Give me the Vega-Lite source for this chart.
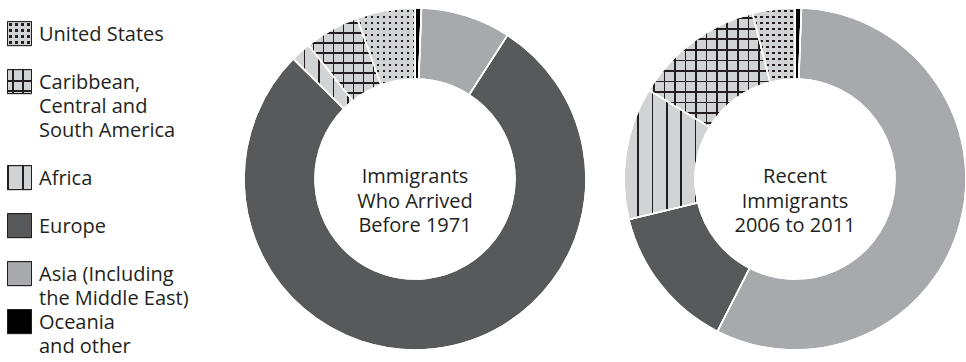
{
  "$schema": "https://vega.github.io/schema/vega-lite/v6.json",
  "padding": 0,
  "background": "white",
  "config": {"view": {"stroke": null}},
  "bounds": "flush",
  "spacing": 205,
  "datasets": {
    "shares": [
      {"period": "before", "region": "Oceania and other", "pct": 0.6, "ord": 1},
      {"period": "before", "region": "Asia (Including the Middle East)", "pct": 8.5, "ord": 2},
      {"period": "before", "region": "Europe", "pct": 78.3, "ord": 3},
      {"period": "before", "region": "Africa", "pct": 1.9, "ord": 4},
      {"period": "before", "region": "Caribbean, Central and South America", "pct": 5.2, "ord": 5},
      {"period": "before", "region": "United States", "pct": 5.5, "ord": 6},
      {"period": "recent", "region": "Oceania and other", "pct": 0.6, "ord": 1},
      {"period": "recent", "region": "Asia (Including the Middle East)", "pct": 56.9, "ord": 2},
      {"period": "recent", "region": "Europe", "pct": 13.7, "ord": 3},
      {"period": "recent", "region": "Africa", "pct": 12.5, "ord": 4},
      {"period": "recent", "region": "Caribbean, Central and South America", "pct": 12.3, "ord": 5},
      {"period": "recent", "region": "United States", "pct": 4.0, "ord": 6}
    ],
    "legend": [
      {"region": "United States", "label": "United States", "row": 0},
      {"region": "Caribbean, Central and South America", "label": "Caribbean,\nCentral and\nSouth America", "row": 2},
      {"region": "Africa", "label": "Africa", "row": 6},
      {"region": "Europe", "label": "Europe", "row": 8},
      {"region": "Asia (Including the Middle East)", "label": "Asia (Including\nthe Middle East)", "row": 10},
      {"region": "Oceania and other", "label": "Oceania\nand other", "row": 12}
    ]
  },
  "hconcat": [
    {
      "width": 39,
      "height": 358,
      "data": {"name": "legend"},
      "encoding": {
        "y": {"field": "row", "type": "quantitative", "axis": null,
              "scale": {"domain": [-1.4, 13.517], "reverse": true, "nice": false, "zero": false}}
      },
      "layer": [
        {
          "mark": {"type": "square", "size": 576, "opacity": 1, "stroke": "#231f20", "strokeWidth": 1},
          "encoding": {
            "fill": {
              "condition": [
                {"test": "datum.region === 'Europe'", "value": "#58595b"},
                {"test": "datum.region === 'Asia (Including the Middle East)'", "value": "#a7a9ac"},
                {"test": "datum.region === 'Africa'", "value": {"gradient": "linear", "x1": 0, "y1": 0, "x2": 1, "y2": 0, "stops": [
                  {"offset": 0, "color": "#231f20"}, {"offset": 0.055, "color": "#231f20"}, {"offset": 0.055, "color": "#d1d3d4"},
                  {"offset": 0.605, "color": "#d1d3d4"}, {"offset": 0.605, "color": "#231f20"}, {"offset": 0.672, "color": "#231f20"}, {"offset": 0.672, "color": "#d1d3d4"}]}},
                {"test": "datum.region === 'Caribbean, Central and South America'", "value": {"gradient": "linear", "x1": 0, "y1": 0, "x2": 0, "y2": 1, "stops": [
                  {"offset": 0.4225, "color": "#d1d3d4"}, {"offset": 0.4225, "color": "#231f20"}, {"offset": 0.4975, "color": "#231f20"}, {"offset": 0.4975, "color": "#d1d3d4"},
                  {"offset": 0.8525, "color": "#d1d3d4"}, {"offset": 0.8525, "color": "#231f20"}, {"offset": 0.9275, "color": "#231f20"}, {"offset": 0.9275, "color": "#d1d3d4"}]}},
                {"test": "datum.region === 'United States'", "value": {"gradient": "linear", "x1": 0, "y1": 0, "x2": 1, "y2": 0, "stops": [
                  {"offset": 0.079, "color": "#d1d3d4"}, {"offset": 0.079, "color": "#231f20"}, {"offset": 0.171, "color": "#231f20"}, {"offset": 0.171, "color": "#d1d3d4"},
                  {"offset": 0.329, "color": "#d1d3d4"}, {"offset": 0.329, "color": "#231f20"}, {"offset": 0.421, "color": "#231f20"}, {"offset": 0.421, "color": "#d1d3d4"},
                  {"offset": 0.579, "color": "#d1d3d4"}, {"offset": 0.579, "color": "#231f20"}, {"offset": 0.671, "color": "#231f20"}, {"offset": 0.671, "color": "#d1d3d4"},
                  {"offset": 0.829, "color": "#d1d3d4"}, {"offset": 0.829, "color": "#231f20"}, {"offset": 0.921, "color": "#231f20"}, {"offset": 0.921, "color": "#d1d3d4"}]}}
              ],
              "value": "#000000"
            }
          }
        },
        {
          "mark": {"type": "square", "size": 576, "opacity": 1, "stroke": "#231f20", "strokeWidth": 1},
          "encoding": {
            "fill": {
              "condition": [
                {"test": "datum.region === 'Caribbean, Central and South America'", "value": {"gradient": "linear", "x1": 0, "y1": 0, "x2": 1, "y2": 0, "stops": [
                  {"offset": 0.1825, "color": "transparent"}, {"offset": 0.1825, "color": "#231f20"}, {"offset": 0.2575, "color": "#231f20"}, {"offset": 0.2575, "color": "transparent"},
                  {"offset": 0.5925, "color": "transparent"}, {"offset": 0.5925, "color": "#231f20"}, {"offset": 0.6675, "color": "#231f20"}, {"offset": 0.6675, "color": "transparent"}]}},
                {"test": "datum.region === 'United States'", "value": {"gradient": "linear", "x1": 0, "y1": 0, "x2": 0, "y2": 1, "stops": [
                  {"offset": 0.079, "color": "#d1d3d4"}, {"offset": 0.079, "color": "transparent"}, {"offset": 0.171, "color": "transparent"}, {"offset": 0.171, "color": "#d1d3d4"},
                  {"offset": 0.329, "color": "#d1d3d4"}, {"offset": 0.329, "color": "transparent"}, {"offset": 0.421, "color": "transparent"}, {"offset": 0.421, "color": "#d1d3d4"},
                  {"offset": 0.579, "color": "#d1d3d4"}, {"offset": 0.579, "color": "transparent"}, {"offset": 0.671, "color": "transparent"}, {"offset": 0.671, "color": "#d1d3d4"},
                  {"offset": 0.829, "color": "#d1d3d4"}, {"offset": 0.829, "color": "transparent"}, {"offset": 0.921, "color": "transparent"}, {"offset": 0.921, "color": "#d1d3d4"}]}}
              ],
              "value": "transparent"
            }
          }
        },
        {
          "mark": {"type": "text", "align": "left", "baseline": "alphabetic", "dx": 19.5, "dy": 7.5, "font": "Open Sans", "fontSize": 20, "lineHeight": 24, "lineBreak": "\n", "color": "#231f20"},
          "encoding": {"text": {"field": "label", "type": "nominal"}}
        }
      ]
    },
    {
      "bounds": "flush",
      "spacing": 38,
      "hconcat": [
        {
          "width": 342,
          "height": 358,
          "layer": [
            {
              "data": {"name": "shares"},
              "transform": [{"filter": "datum.period === 'before'"}],
              "mark": {"type": "arc", "outerRadius": 171, "innerRadius": 100, "stroke": "white", "strokeWidth": 1.5},
              "encoding": {
                "theta": {"field": "pct", "type": "quantitative", "stack": true},
                "order": {"field": "ord", "type": "quantitative"},
                "fill": {
                  "condition": [
                    {"test": "datum.region === 'Europe'", "value": "#58595b"},
                    {"test": "datum.region === 'Asia (Including the Middle East)'", "value": "#a7a9ac"},
                    {"test": "datum.region === 'Africa'", "value": {"gradient": "linear", "x1": 0, "y1": 0, "x2": 1, "y2": 0, "stops": [
                      {"offset": 0.175, "color": "#d1d3d4"}, {"offset": 0.175, "color": "#231f20"}, {"offset": 0.202, "color": "#231f20"}, {"offset": 0.202, "color": "#d1d3d4"},
                      {"offset": 0.416, "color": "#d1d3d4"}, {"offset": 0.416, "color": "#231f20"}, {"offset": 0.443, "color": "#231f20"}, {"offset": 0.443, "color": "#d1d3d4"},
                      {"offset": 0.663, "color": "#d1d3d4"}, {"offset": 0.663, "color": "#231f20"}, {"offset": 0.690, "color": "#231f20"}, {"offset": 0.690, "color": "#d1d3d4"},
                      {"offset": 0.904, "color": "#d1d3d4"}, {"offset": 0.904, "color": "#231f20"}, {"offset": 0.931, "color": "#231f20"}, {"offset": 0.931, "color": "#d1d3d4"}]}},
                    {"test": "datum.region === 'Caribbean, Central and South America'", "value": {"gradient": "linear", "x1": 0, "y1": 0, "x2": 0, "y2": 1, "stops": [
                      {"offset": 0.050, "color": "#d1d3d4"}, {"offset": 0.050, "color": "#231f20"}, {"offset": 0.071, "color": "#231f20"}, {"offset": 0.071, "color": "#d1d3d4"},
                      {"offset": 0.171, "color": "#d1d3d4"}, {"offset": 0.171, "color": "#231f20"}, {"offset": 0.192, "color": "#231f20"}, {"offset": 0.192, "color": "#d1d3d4"},
                      {"offset": 0.291, "color": "#d1d3d4"}, {"offset": 0.291, "color": "#231f20"}, {"offset": 0.313, "color": "#231f20"}, {"offset": 0.313, "color": "#d1d3d4"},
                      {"offset": 0.412, "color": "#d1d3d4"}, {"offset": 0.412, "color": "#231f20"}, {"offset": 0.434, "color": "#231f20"}, {"offset": 0.434, "color": "#d1d3d4"},
                      {"offset": 0.533, "color": "#d1d3d4"}, {"offset": 0.533, "color": "#231f20"}, {"offset": 0.555, "color": "#231f20"}, {"offset": 0.555, "color": "#d1d3d4"},
                      {"offset": 0.654, "color": "#d1d3d4"}, {"offset": 0.654, "color": "#231f20"}, {"offset": 0.676, "color": "#231f20"}, {"offset": 0.676, "color": "#d1d3d4"},
                      {"offset": 0.775, "color": "#d1d3d4"}, {"offset": 0.775, "color": "#231f20"}, {"offset": 0.797, "color": "#231f20"}, {"offset": 0.797, "color": "#d1d3d4"},
                      {"offset": 0.896, "color": "#d1d3d4"}, {"offset": 0.896, "color": "#231f20"}, {"offset": 0.918, "color": "#231f20"}, {"offset": 0.918, "color": "#d1d3d4"}]}},
                    {"test": "datum.region === 'United States'", "value": {"gradient": "linear", "x1": 0, "y1": 0, "x2": 1, "y2": 0, "stops": [
                      {"offset": 0.033, "color": "#d1d3d4"}, {"offset": 0.033, "color": "#231f20"}, {"offset": 0.071, "color": "#231f20"}, {"offset": 0.071, "color": "#d1d3d4"},
                      {"offset": 0.136, "color": "#d1d3d4"}, {"offset": 0.136, "color": "#231f20"}, {"offset": 0.174, "color": "#231f20"}, {"offset": 0.174, "color": "#d1d3d4"},
                      {"offset": 0.240, "color": "#d1d3d4"}, {"offset": 0.240, "color": "#231f20"}, {"offset": 0.278, "color": "#231f20"}, {"offset": 0.278, "color": "#d1d3d4"},
                      {"offset": 0.344, "color": "#d1d3d4"}, {"offset": 0.344, "color": "#231f20"}, {"offset": 0.382, "color": "#231f20"}, {"offset": 0.382, "color": "#d1d3d4"},
                      {"offset": 0.447, "color": "#d1d3d4"}, {"offset": 0.447, "color": "#231f20"}, {"offset": 0.485, "color": "#231f20"}, {"offset": 0.485, "color": "#d1d3d4"},
                      {"offset": 0.551, "color": "#d1d3d4"}, {"offset": 0.551, "color": "#231f20"}, {"offset": 0.589, "color": "#231f20"}, {"offset": 0.589, "color": "#d1d3d4"},
                      {"offset": 0.655, "color": "#d1d3d4"}, {"offset": 0.655, "color": "#231f20"}, {"offset": 0.693, "color": "#231f20"}, {"offset": 0.693, "color": "#d1d3d4"},
                      {"offset": 0.758, "color": "#d1d3d4"}, {"offset": 0.758, "color": "#231f20"}, {"offset": 0.796, "color": "#231f20"}, {"offset": 0.796, "color": "#d1d3d4"},
                      {"offset": 0.862, "color": "#d1d3d4"}, {"offset": 0.862, "color": "#231f20"}, {"offset": 0.900, "color": "#231f20"}, {"offset": 0.900, "color": "#d1d3d4"},
                      {"offset": 0.966, "color": "#d1d3d4"}, {"offset": 0.966, "color": "#231f20"}, {"offset": 1, "color": "#231f20"}]}}
                  ],
                  "value": "#000000"
                }
              }
            },
            {
              "data": {"name": "shares"},
              "transform": [{"filter": "datum.period === 'before'"}],
              "mark": {"type": "arc", "outerRadius": 171, "innerRadius": 100, "stroke": "white", "strokeWidth": 1.5},
              "encoding": {
                "theta": {"field": "pct", "type": "quantitative", "stack": true},
                "order": {"field": "ord", "type": "quantitative"},
                "fill": {
                  "condition": [
                    {"test": "datum.region === 'Caribbean, Central and South America'", "value": {"gradient": "linear", "x1": 0, "y1": 0, "x2": 1, "y2": 0, "stops": [
                      {"offset": 0.057, "color": "transparent"}, {"offset": 0.057, "color": "#231f20"}, {"offset": 0.081, "color": "#231f20"}, {"offset": 0.081, "color": "transparent"},
                      {"offset": 0.194, "color": "transparent"}, {"offset": 0.194, "color": "#231f20"}, {"offset": 0.219, "color": "#231f20"}, {"offset": 0.219, "color": "transparent"},
                      {"offset": 0.332, "color": "transparent"}, {"offset": 0.332, "color": "#231f20"}, {"offset": 0.357, "color": "#231f20"}, {"offset": 0.357, "color": "transparent"},
                      {"offset": 0.470, "color": "transparent"}, {"offset": 0.470, "color": "#231f20"}, {"offset": 0.494, "color": "#231f20"}, {"offset": 0.494, "color": "transparent"},
                      {"offset": 0.607, "color": "transparent"}, {"offset": 0.607, "color": "#231f20"}, {"offset": 0.632, "color": "#231f20"}, {"offset": 0.632, "color": "transparent"},
                      {"offset": 0.745, "color": "transparent"}, {"offset": 0.745, "color": "#231f20"}, {"offset": 0.770, "color": "#231f20"}, {"offset": 0.770, "color": "transparent"},
                      {"offset": 0.883, "color": "transparent"}, {"offset": 0.883, "color": "#231f20"}, {"offset": 0.908, "color": "#231f20"}, {"offset": 0.908, "color": "transparent"}]}},
                    {"test": "datum.region === 'United States'", "value": {"gradient": "linear", "x1": 0, "y1": 0, "x2": 0, "y2": 1, "stops": [
                      {"offset": 0.025, "color": "#d1d3d4"}, {"offset": 0.025, "color": "transparent"}, {"offset": 0.053, "color": "transparent"}, {"offset": 0.053, "color": "#d1d3d4"},
                      {"offset": 0.103, "color": "#d1d3d4"}, {"offset": 0.103, "color": "transparent"}, {"offset": 0.131, "color": "transparent"}, {"offset": 0.131, "color": "#d1d3d4"},
                      {"offset": 0.181, "color": "#d1d3d4"}, {"offset": 0.181, "color": "transparent"}, {"offset": 0.209, "color": "transparent"}, {"offset": 0.209, "color": "#d1d3d4"},
                      {"offset": 0.259, "color": "#d1d3d4"}, {"offset": 0.259, "color": "transparent"}, {"offset": 0.287, "color": "transparent"}, {"offset": 0.287, "color": "#d1d3d4"},
                      {"offset": 0.337, "color": "#d1d3d4"}, {"offset": 0.337, "color": "transparent"}, {"offset": 0.365, "color": "transparent"}, {"offset": 0.365, "color": "#d1d3d4"},
                      {"offset": 0.415, "color": "#d1d3d4"}, {"offset": 0.415, "color": "transparent"}, {"offset": 0.443, "color": "transparent"}, {"offset": 0.443, "color": "#d1d3d4"},
                      {"offset": 0.493, "color": "#d1d3d4"}, {"offset": 0.493, "color": "transparent"}, {"offset": 0.521, "color": "transparent"}, {"offset": 0.521, "color": "#d1d3d4"},
                      {"offset": 0.571, "color": "#d1d3d4"}, {"offset": 0.571, "color": "transparent"}, {"offset": 0.600, "color": "transparent"}, {"offset": 0.600, "color": "#d1d3d4"},
                      {"offset": 0.649, "color": "#d1d3d4"}, {"offset": 0.649, "color": "transparent"}, {"offset": 0.678, "color": "transparent"}, {"offset": 0.678, "color": "#d1d3d4"},
                      {"offset": 0.727, "color": "#d1d3d4"}, {"offset": 0.727, "color": "transparent"}, {"offset": 0.756, "color": "transparent"}, {"offset": 0.756, "color": "#d1d3d4"},
                      {"offset": 0.805, "color": "#d1d3d4"}, {"offset": 0.805, "color": "transparent"}, {"offset": 0.834, "color": "transparent"}, {"offset": 0.834, "color": "#d1d3d4"},
                      {"offset": 0.883, "color": "#d1d3d4"}, {"offset": 0.883, "color": "transparent"}, {"offset": 0.912, "color": "transparent"}, {"offset": 0.912, "color": "#d1d3d4"},
                      {"offset": 0.961, "color": "#d1d3d4"}, {"offset": 0.961, "color": "transparent"}, {"offset": 0.990, "color": "transparent"}, {"offset": 0.990, "color": "#d1d3d4"}]}}
                  ],
                  "value": "transparent"
                }
              }
            },
            {
              "data": {"values": [{"t": "Immigrants\nWho Arrived\nBefore 1971"}]},
              "mark": {"type": "text", "align": "center", "baseline": "middle", "dy": -2, "font": "Open Sans", "fontSize": 20, "lineHeight": 24.5, "lineBreak": "\n", "color": "#231f20"},
              "encoding": {"text": {"field": "t", "type": "nominal"}}
            }
          ]
        },
        {
          "width": 342,
          "height": 358,
          "layer": [
            {
              "data": {"name": "shares"},
              "transform": [{"filter": "datum.period === 'recent'"}],
              "mark": {"type": "arc", "outerRadius": 171, "innerRadius": 100, "stroke": "white", "strokeWidth": 1.5},
              "encoding": {
                "theta": {"field": "pct", "type": "quantitative", "stack": true},
                "order": {"field": "ord", "type": "quantitative"},
                "fill": {
                  "condition": [
                    {"test": "datum.region === 'Europe'", "value": "#58595b"},
                    {"test": "datum.region === 'Asia (Including the Middle East)'", "value": "#a7a9ac"},
                    {"test": "datum.region === 'Africa'", "value": {"gradient": "linear", "x1": 0, "y1": 0, "x2": 1, "y2": 0, "stops": [
                      {"offset": 0.157, "color": "#d1d3d4"}, {"offset": 0.157, "color": "#231f20"}, {"offset": 0.176, "color": "#231f20"}, {"offset": 0.176, "color": "#d1d3d4"},
                      {"offset": 0.324, "color": "#d1d3d4"}, {"offset": 0.324, "color": "#231f20"}, {"offset": 0.343, "color": "#231f20"}, {"offset": 0.343, "color": "#d1d3d4"},
                      {"offset": 0.491, "color": "#d1d3d4"}, {"offset": 0.491, "color": "#231f20"}, {"offset": 0.509, "color": "#231f20"}, {"offset": 0.509, "color": "#d1d3d4"},
                      {"offset": 0.657, "color": "#d1d3d4"}, {"offset": 0.657, "color": "#231f20"}, {"offset": 0.676, "color": "#231f20"}, {"offset": 0.676, "color": "#d1d3d4"},
                      {"offset": 0.824, "color": "#d1d3d4"}, {"offset": 0.824, "color": "#231f20"}, {"offset": 0.843, "color": "#231f20"}, {"offset": 0.843, "color": "#d1d3d4"}]}},
                    {"test": "datum.region === 'Caribbean, Central and South America'", "value": {"gradient": "linear", "x1": 0, "y1": 0, "x2": 0, "y2": 1, "stops": [
                      {"offset": 0.036, "color": "#d1d3d4"}, {"offset": 0.036, "color": "#231f20"}, {"offset": 0.052, "color": "#231f20"}, {"offset": 0.052, "color": "#d1d3d4"},
                      {"offset": 0.129, "color": "#d1d3d4"}, {"offset": 0.129, "color": "#231f20"}, {"offset": 0.144, "color": "#231f20"}, {"offset": 0.144, "color": "#d1d3d4"},
                      {"offset": 0.221, "color": "#d1d3d4"}, {"offset": 0.221, "color": "#231f20"}, {"offset": 0.237, "color": "#231f20"}, {"offset": 0.237, "color": "#d1d3d4"},
                      {"offset": 0.313, "color": "#d1d3d4"}, {"offset": 0.313, "color": "#231f20"}, {"offset": 0.329, "color": "#231f20"}, {"offset": 0.329, "color": "#d1d3d4"},
                      {"offset": 0.406, "color": "#d1d3d4"}, {"offset": 0.406, "color": "#231f20"}, {"offset": 0.422, "color": "#231f20"}, {"offset": 0.422, "color": "#d1d3d4"},
                      {"offset": 0.498, "color": "#d1d3d4"}, {"offset": 0.498, "color": "#231f20"}, {"offset": 0.514, "color": "#231f20"}, {"offset": 0.514, "color": "#d1d3d4"},
                      {"offset": 0.591, "color": "#d1d3d4"}, {"offset": 0.591, "color": "#231f20"}, {"offset": 0.607, "color": "#231f20"}, {"offset": 0.607, "color": "#d1d3d4"},
                      {"offset": 0.683, "color": "#d1d3d4"}, {"offset": 0.683, "color": "#231f20"}, {"offset": 0.699, "color": "#231f20"}, {"offset": 0.699, "color": "#d1d3d4"},
                      {"offset": 0.776, "color": "#d1d3d4"}, {"offset": 0.776, "color": "#231f20"}, {"offset": 0.791, "color": "#231f20"}, {"offset": 0.791, "color": "#d1d3d4"},
                      {"offset": 0.868, "color": "#d1d3d4"}, {"offset": 0.868, "color": "#231f20"}, {"offset": 0.884, "color": "#231f20"}, {"offset": 0.884, "color": "#d1d3d4"},
                      {"offset": 0.960, "color": "#d1d3d4"}, {"offset": 0.960, "color": "#231f20"}, {"offset": 0.976, "color": "#231f20"}, {"offset": 0.976, "color": "#d1d3d4"}]}},
                    {"test": "datum.region === 'United States'", "value": {"gradient": "linear", "x1": 0, "y1": 0, "x2": 1, "y2": 0, "stops": [
                      {"offset": 0.045, "color": "#d1d3d4"}, {"offset": 0.045, "color": "#231f20"}, {"offset": 0.096, "color": "#231f20"}, {"offset": 0.096, "color": "#d1d3d4"},
                      {"offset": 0.186, "color": "#d1d3d4"}, {"offset": 0.186, "color": "#231f20"}, {"offset": 0.238, "color": "#231f20"}, {"offset": 0.238, "color": "#d1d3d4"},
                      {"offset": 0.327, "color": "#d1d3d4"}, {"offset": 0.327, "color": "#231f20"}, {"offset": 0.379, "color": "#231f20"}, {"offset": 0.379, "color": "#d1d3d4"},
                      {"offset": 0.468, "color": "#d1d3d4"}, {"offset": 0.468, "color": "#231f20"}, {"offset": 0.520, "color": "#231f20"}, {"offset": 0.520, "color": "#d1d3d4"},
                      {"offset": 0.609, "color": "#d1d3d4"}, {"offset": 0.609, "color": "#231f20"}, {"offset": 0.661, "color": "#231f20"}, {"offset": 0.661, "color": "#d1d3d4"},
                      {"offset": 0.751, "color": "#d1d3d4"}, {"offset": 0.751, "color": "#231f20"}, {"offset": 0.802, "color": "#231f20"}, {"offset": 0.802, "color": "#d1d3d4"},
                      {"offset": 0.892, "color": "#d1d3d4"}, {"offset": 0.892, "color": "#231f20"}, {"offset": 0.944, "color": "#231f20"}, {"offset": 0.944, "color": "#d1d3d4"}]}}
                  ],
                  "value": "#000000"
                }
              }
            },
            {
              "data": {"name": "shares"},
              "transform": [{"filter": "datum.period === 'recent'"}],
              "mark": {"type": "arc", "outerRadius": 171, "innerRadius": 100, "stroke": "white", "strokeWidth": 1.5},
              "encoding": {
                "theta": {"field": "pct", "type": "quantitative", "stack": true},
                "order": {"field": "ord", "type": "quantitative"},
                "fill": {
                  "condition": [
                    {"test": "datum.region === 'Caribbean, Central and South America'", "value": {"gradient": "linear", "x1": 0, "y1": 0, "x2": 1, "y2": 0, "stops": [
                      {"offset": 0.034, "color": "transparent"}, {"offset": 0.034, "color": "#231f20"}, {"offset": 0.049, "color": "#231f20"}, {"offset": 0.049, "color": "transparent"},
                      {"offset": 0.121, "color": "transparent"}, {"offset": 0.121, "color": "#231f20"}, {"offset": 0.135, "color": "#231f20"}, {"offset": 0.135, "color": "transparent"},
                      {"offset": 0.207, "color": "transparent"}, {"offset": 0.207, "color": "#231f20"}, {"offset": 0.222, "color": "#231f20"}, {"offset": 0.222, "color": "transparent"},
                      {"offset": 0.294, "color": "transparent"}, {"offset": 0.294, "color": "#231f20"}, {"offset": 0.309, "color": "#231f20"}, {"offset": 0.309, "color": "transparent"},
                      {"offset": 0.380, "color": "transparent"}, {"offset": 0.380, "color": "#231f20"}, {"offset": 0.395, "color": "#231f20"}, {"offset": 0.395, "color": "transparent"},
                      {"offset": 0.467, "color": "transparent"}, {"offset": 0.467, "color": "#231f20"}, {"offset": 0.482, "color": "#231f20"}, {"offset": 0.482, "color": "transparent"},
                      {"offset": 0.554, "color": "transparent"}, {"offset": 0.554, "color": "#231f20"}, {"offset": 0.568, "color": "#231f20"}, {"offset": 0.568, "color": "transparent"},
                      {"offset": 0.640, "color": "transparent"}, {"offset": 0.640, "color": "#231f20"}, {"offset": 0.655, "color": "#231f20"}, {"offset": 0.655, "color": "transparent"},
                      {"offset": 0.727, "color": "transparent"}, {"offset": 0.727, "color": "#231f20"}, {"offset": 0.742, "color": "#231f20"}, {"offset": 0.742, "color": "transparent"},
                      {"offset": 0.814, "color": "transparent"}, {"offset": 0.814, "color": "#231f20"}, {"offset": 0.828, "color": "#231f20"}, {"offset": 0.828, "color": "transparent"},
                      {"offset": 0.900, "color": "transparent"}, {"offset": 0.900, "color": "#231f20"}, {"offset": 0.915, "color": "#231f20"}, {"offset": 0.915, "color": "transparent"},
                      {"offset": 0.987, "color": "transparent"}, {"offset": 0.987, "color": "#231f20"}, {"offset": 1, "color": "#231f20"}]}},
                    {"test": "datum.region === 'United States'", "value": {"gradient": "linear", "x1": 0, "y1": 0, "x2": 0, "y2": 1, "stops": [
                      {"offset": 0.026, "color": "#d1d3d4"}, {"offset": 0.026, "color": "transparent"}, {"offset": 0.055, "color": "transparent"}, {"offset": 0.055, "color": "#d1d3d4"},
                      {"offset": 0.107, "color": "#d1d3d4"}, {"offset": 0.107, "color": "transparent"}, {"offset": 0.136, "color": "transparent"}, {"offset": 0.136, "color": "#d1d3d4"},
                      {"offset": 0.188, "color": "#d1d3d4"}, {"offset": 0.188, "color": "transparent"}, {"offset": 0.217, "color": "transparent"}, {"offset": 0.217, "color": "#d1d3d4"},
                      {"offset": 0.269, "color": "#d1d3d4"}, {"offset": 0.269, "color": "transparent"}, {"offset": 0.298, "color": "transparent"}, {"offset": 0.298, "color": "#d1d3d4"},
                      {"offset": 0.350, "color": "#d1d3d4"}, {"offset": 0.350, "color": "transparent"}, {"offset": 0.379, "color": "transparent"}, {"offset": 0.379, "color": "#d1d3d4"},
                      {"offset": 0.431, "color": "#d1d3d4"}, {"offset": 0.431, "color": "transparent"}, {"offset": 0.460, "color": "transparent"}, {"offset": 0.460, "color": "#d1d3d4"},
                      {"offset": 0.512, "color": "#d1d3d4"}, {"offset": 0.512, "color": "transparent"}, {"offset": 0.541, "color": "transparent"}, {"offset": 0.541, "color": "#d1d3d4"},
                      {"offset": 0.593, "color": "#d1d3d4"}, {"offset": 0.593, "color": "transparent"}, {"offset": 0.622, "color": "transparent"}, {"offset": 0.622, "color": "#d1d3d4"},
                      {"offset": 0.674, "color": "#d1d3d4"}, {"offset": 0.674, "color": "transparent"}, {"offset": 0.703, "color": "transparent"}, {"offset": 0.703, "color": "#d1d3d4"},
                      {"offset": 0.754, "color": "#d1d3d4"}, {"offset": 0.754, "color": "transparent"}, {"offset": 0.784, "color": "transparent"}, {"offset": 0.784, "color": "#d1d3d4"},
                      {"offset": 0.835, "color": "#d1d3d4"}, {"offset": 0.835, "color": "transparent"}, {"offset": 0.865, "color": "transparent"}, {"offset": 0.865, "color": "#d1d3d4"},
                      {"offset": 0.916, "color": "#d1d3d4"}, {"offset": 0.916, "color": "transparent"}, {"offset": 0.946, "color": "transparent"}, {"offset": 0.946, "color": "#d1d3d4"}]}}
                  ],
                  "value": "transparent"
                }
              }
            },
            {
              "data": {"values": [{"t": "Recent\nImmigrants\n2006 to 2011"}]},
              "mark": {"type": "text", "align": "center", "baseline": "middle", "dy": -2, "font": "Open Sans", "fontSize": 20, "lineHeight": 24.5, "lineBreak": "\n", "color": "#231f20"},
              "encoding": {"text": {"field": "t", "type": "nominal"}}
            }
          ]
        }
      ]
    }
  ]
}
